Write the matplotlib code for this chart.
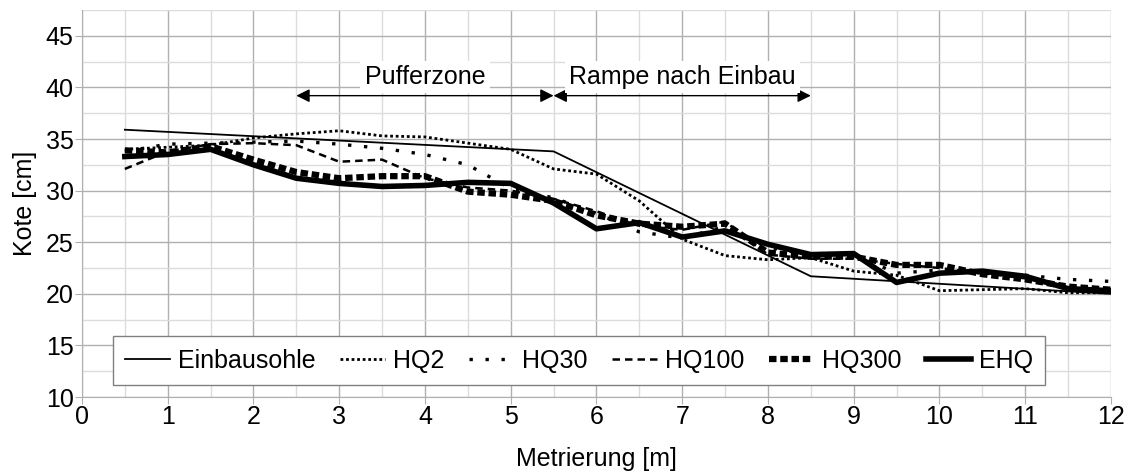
import numpy as np
import matplotlib.pyplot as plt
from matplotlib.ticker import MultipleLocator

plt.rcParams['font.family'] = ['Liberation Sans', 'DejaVu Sans']

x = [0.5, 1, 1.5, 2, 2.5, 3, 3.5, 4, 4.5, 5, 5.5, 6, 6.5, 7, 7.5, 8,
     8.5, 9, 9.5, 10, 10.5, 11, 11.5, 12]

einbau_x = [0.5, 5.5, 8.5, 12]
einbau_y = [35.9, 33.8, 21.7, 20.0]

hq2 = [34.0, 34.2, 34.4, 35.1, 35.5, 35.8, 35.3, 35.2, 34.6, 34.0, 32.1, 31.6,
       29.0, 25.3, 23.7, 23.3, 23.5, 22.2, 21.8, 20.3, 20.4, 20.5, 20.1, 20.1]
hq30 = [33.8, 34.5, 34.6, 34.7, 34.8, 34.5, 34.1, 33.5, 32.5, 30.2, 29.3, 27.8,
        26.0, 25.4, 26.5, 24.5, 23.8, 23.8, 22.0, 22.3, 22.0, 21.8, 21.4, 21.2]
hq100 = [32.1, 33.8, 34.5, 34.6, 34.4, 32.8, 33.0, 31.2, 30.3, 30.0, 29.2, 28.0,
         26.6, 26.2, 27.0, 23.8, 23.4, 23.4, 22.9, 22.5, 22.0, 21.5, 20.6, 20.3]
hq300 = [33.9, 33.7, 34.3, 33.0, 31.8, 31.2, 31.4, 31.4, 29.9, 29.6, 29.0, 27.6,
         26.8, 26.5, 26.8, 24.0, 23.6, 23.6, 22.8, 22.8, 21.9, 21.4, 20.7, 20.4]
ehq = [33.3, 33.5, 34.0, 32.5, 31.2, 30.7, 30.4, 30.5, 30.8, 30.7, 28.8, 26.3,
       26.9, 25.5, 26.1, 24.8, 23.8, 23.9, 21.1, 22.0, 22.2, 21.7, 20.5, 20.3]

fig = plt.figure(figsize=(11.29, 4.74), dpi=100)
ax = fig.add_axes([0.0726, 0.1624, 0.9114, 0.8165])

ax.plot(einbau_x, einbau_y, color='black', lw=1.3, label='Einbausohle')
ax.plot(x, hq2, color='black', lw=2.0, ls=(0, (1, 1)), label='HQ2')
ax.plot(x, hq30, color='black', lw=2.4, ls=(0, (1, 3.8)), label='HQ30')
ax.plot(x, hq100, color='black', lw=1.8, ls=(0, (3, 2)), label='HQ100')
ax.plot(x, hq300, color='black', lw=4.5, ls=(0, (1.2, 0.6)), label='HQ300')
ax.plot(x, ehq, color='black', lw=4.0, label='EHQ')

ax.set_xlim(0, 12)
ax.set_ylim(10, 47.5)
ax.xaxis.set_major_locator(MultipleLocator(1))
ax.xaxis.set_minor_locator(MultipleLocator(0.5))
ax.yaxis.set_major_locator(MultipleLocator(5))
ax.yaxis.set_minor_locator(MultipleLocator(2.5))
ax.grid(which='major', color='#b0b0b0', lw=1.0)
ax.grid(which='minor', color='#dcdcdc', lw=1.0)
ax.set_axisbelow(True)
for s in ['top', 'right']:
    ax.spines[s].set_visible(False)
for s in ['left', 'bottom']:
    ax.spines[s].set_color('#b0b0b0')
ax.tick_params(which='major', length=5, color='#b0b0b0', labelsize=18, pad=1)
ax.tick_params(which='minor', length=0)

ax.set_xlabel('Metrierung [m]', fontsize=18, labelpad=13)
ax.set_ylabel('Kote [cm]', fontsize=18, labelpad=6)

# Bereiche oben
arr = dict(arrowstyle='<|-|>', color='black', lw=1.0, mutation_scale=20,
           shrinkA=0, shrinkB=0)
ax.annotate('', xy=(2.5, 39.2), xytext=(5.5, 39.2), arrowprops=arr)
ax.annotate('', xy=(5.5, 39.2), xytext=(8.5, 39.2), arrowprops=arr)
box = dict(facecolor='white', edgecolor='none', pad=3)
ax.text(4.0, 41.0, 'Pufferzone', ha='center', va='center', fontsize=18, bbox=box)
ax.text(7.0, 41.0, 'Rampe nach Einbau', ha='center', va='center', fontsize=18, bbox=box)

leg = ax.legend(loc='lower center', bbox_to_anchor=(0.483, 0.031),
                ncol=6, fontsize=18, handlelength=1.8,
                fancybox=False, framealpha=1, edgecolor='#808080',
                borderaxespad=0, borderpad=0.5, handletextpad=0.3,
                columnspacing=1.0)
leg.get_frame().set_linewidth(1.0)

fig.savefig('out.png', dpi=100)
